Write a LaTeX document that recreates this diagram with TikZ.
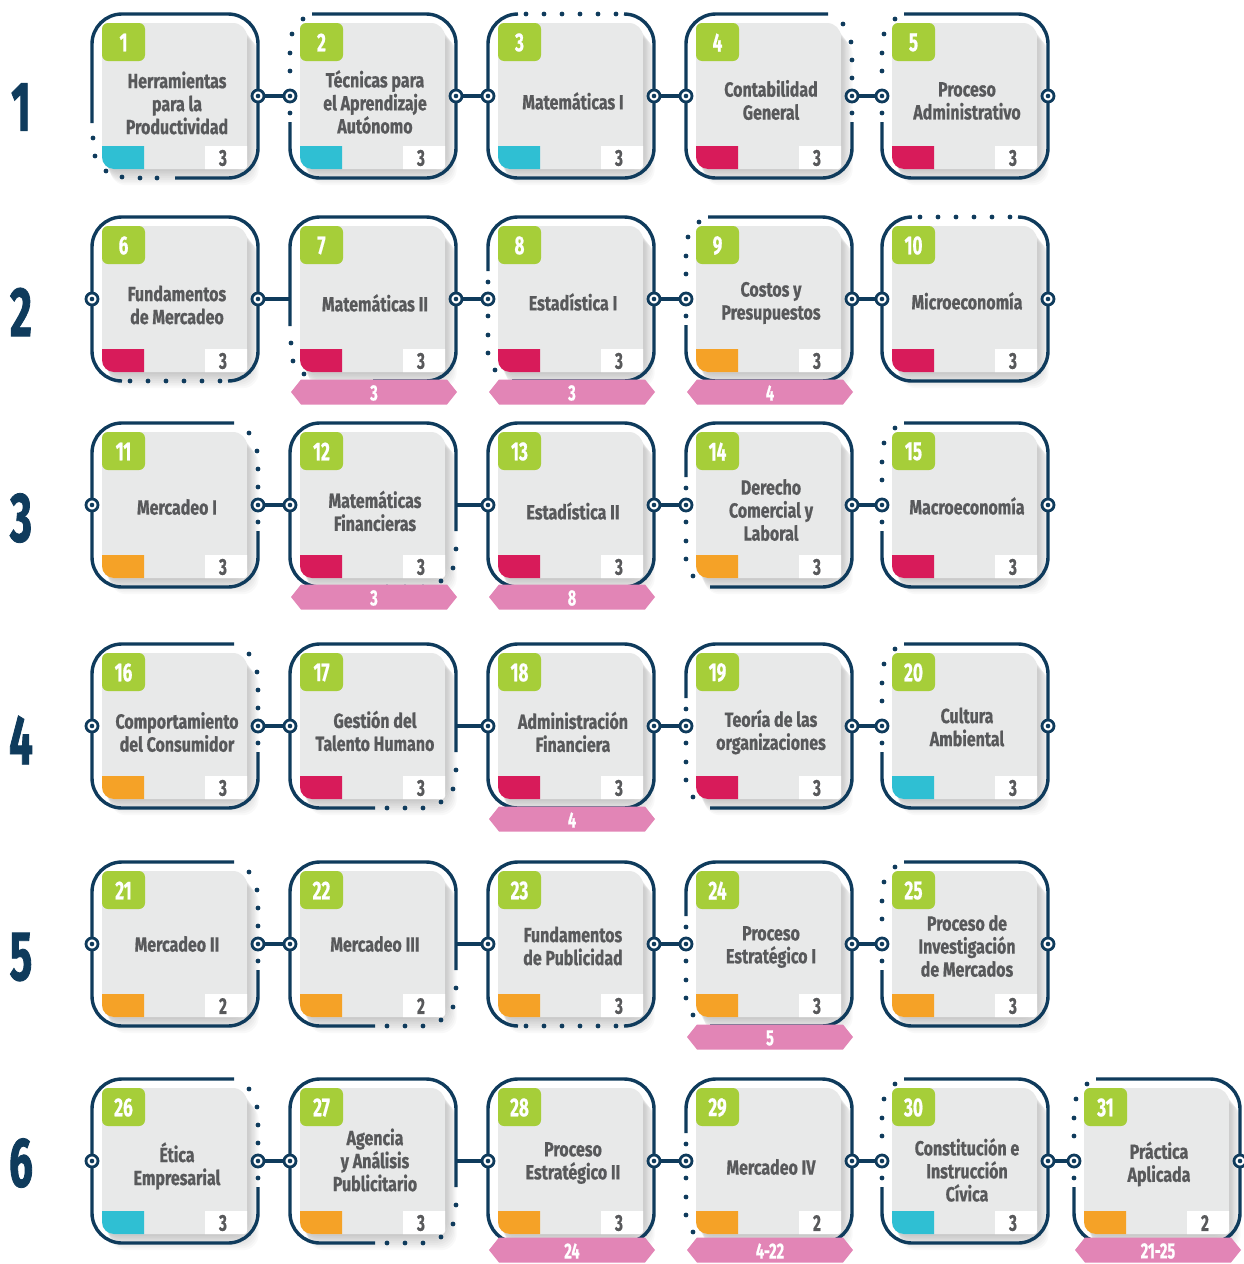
\documentclass[tikz,border=0pt]{standalone}
\usepackage{fontspec}
\newfontfamily\cf[FakeStretch=0.78, BoldFeatures={FakeBold=0.7}]{Fira Sans}
\newfontfamily\nf[FakeStretch=0.66, BoldFeatures={FakeBold=0.6}]{Fira Sans}
\newfontfamily\rf[FakeStretch=0.6, BoldFeatures={FakeBold=1.2}]{Fira Sans}
\definecolor{navy}{HTML}{0F3B5C}
\definecolor{txtgray}{HTML}{58595B}
\definecolor{cardgray}{HTML}{E8E9E9}
\definecolor{greenc}{HTML}{A6CE39}
\definecolor{cyanc}{HTML}{2FBFD3}
\definecolor{magc}{HTML}{D81B5A}
\definecolor{orangec}{HTML}{F5A227}
\definecolor{pinkc}{HTML}{E285B6}
\tikzset{
  fr/.style={draw=navy, line width=3.4pt},
  conn/.style={draw=navy, line width=3.2pt},
  ringnode/.style={circle, draw=navy, line width=2.8pt, fill=white, minimum size=12pt, inner sep=0pt,
     path picture={\fill[navy] (path picture bounding box.center) circle (2.3pt);}},
  ttl/.style={align=center, text=txtgray, inner sep=0pt, font=\cf\bfseries\fontsize{20.5}{23}\selectfont},
  badgenum/.style={text=white, inner sep=0pt, font=\nf\bfseries\fontsize{26}{26}\selectfont},
  crednum/.style={text=txtgray, inner sep=0pt, font=\nf\bfseries\fontsize{23}{23}\selectfont},
  rowlbl/.style={text=navy, inner sep=0pt, font=\rf\bfseries\fontsize{70}{70}\selectfont},
  bantext/.style={text=white, inner sep=0pt, font=\nf\bfseries\fontsize{22}{22}\selectfont},
  cardbox/.style={minimum width=166pt, minimum height=164pt, inner sep=0pt, outer sep=0pt, draw=none},
}
% dots along a frame
\newcommand\dts[1]{\foreach \p in {#1}{\fill[navy] \p circle (2.4);}}
% frame variants (local coordinates, 166 x 164, y downward)
\newcommand\frFull{\draw[fr, rounded corners=30pt] (0,0) rectangle (166,164);}
\newcommand\frTL{\draw[fr, rounded corners=30pt] (22,0) -- (166,0) -- (166,164) -- (0,164) -- (0,108);
  \dts{(13,5),(2,20),(0,39),(0,57),(0,99)}}
\newcommand\frTR{\draw[fr, rounded corners=30pt] (166,108) -- (166,164) -- (0,164) -- (0,0) -- (142,0);
  \dts{(157,10),(165,28),(166,46),(166,64),(166,99)}}
\newcommand\frBL{\draw[fr, rounded corners=30pt] (83,164) -- (166,164) -- (166,0) -- (0,0) -- (0,109);
  \dts{(1,124),(3,142),(14,157),(30,163),(48,164),(65,164)}}
\newcommand\frBLb{\draw[fr, rounded corners=30pt] (83,164) -- (166,164) -- (166,0) -- (0,0) -- (0,109);
  \dts{(1,126),(3,144),(14,157)}}
\newcommand\frBR{\draw[fr, rounded corners=30pt] (166,108) -- (166,0) -- (0,0) -- (0,164) -- (85,164);
  \dts{(166,126),(163,145),(151,158),(133,164),(115,164),(97,164)}}
\newcommand\frT{\draw[fr, rounded corners=30pt] (30,0) -- (0,0) -- (0,164) -- (166,164) -- (166,0) -- (136,0);
  \dts{(38,0),(56,0),(74,0),(92,0),(110,0),(128,0)}}
\newcommand\frB{\draw[fr, rounded corners=30pt] (30,164) -- (0,164) -- (0,0) -- (166,0) -- (166,164) -- (136,164);
  \dts{(38,164),(56,164),(74,164),(92,164),(110,164),(128,164)}}
\newcommand\frL{\draw[fr, rounded corners=30pt] (0,54) -- (0,0) -- (166,0) -- (166,164) -- (24,164);
  \dts{(0,65),(0,99),(0,118),(0,136),(7,153)}}
% card: name, L, T, badge, title, block colour, credits, frame, title y
\newcommand\card[9]{%
  \begin{scope}[shift={(#2,#3)}]
    \foreach \i in {1,...,9}{\fill[black,opacity=0.022,rounded corners=16pt] (10+0.9*\i,9+1.7*\i) rectangle (155+1.3*\i,155+1.8*\i);}
    \fill[cardgray] (10,15) arc[start angle=180,end angle=270,radius=6] -- (141,9)
       arc[start angle=270,end angle=360,radius=14] -- (155,152)
       arc[start angle=0,end angle=90,radius=3] -- (22,155)
       arc[start angle=90,end angle=180,radius=12] -- cycle;
    \fill[greenc, rounded corners=6pt] (10,9) rectangle (53,47);
    \fill[#6] (10,132) -- (52,132) -- (52,155) -- (22,155) arc[start angle=90,end angle=180,radius=12] -- cycle;
    \fill[white] (113,132) -- (155,132) -- (155,152) arc[start angle=0,end angle=90,radius=3] -- (113,155) -- cycle;
    #8
    \node[badgenum] (#1n) at (31.5,28.5) {#4};
    \node[crednum] (#1k) at (131,144) {#7};
    \node[ttl] (#1t) at (85,#9) {#5};
  \end{scope}
  \node[cardbox] (#1) at (#2+83,#3+82) {};
}
\newcommand\banner[4]{%
  \fill[pinkc] (#2-83,#3) -- (#2-73,#3-12.5) -- (#2+73,#3-12.5) -- (#2+83,#3) -- (#2+73,#3+12.5) -- (#2-73,#3+12.5) -- cycle;
  \node[bantext] (#1) at (#2,#3+1) {#4};
}
\begin{document}
\begin{tikzpicture}[x=1pt,y=-1pt]
\useasboundingbox (0,0) rectangle (1244,1264);
\fill[white] (0,0) rectangle (1244,1264);
% row labels
\node[rowlbl] (row1) at (21,107) {1};
\node[rowlbl] (row2) at (21,312) {2};
\node[rowlbl] (row3) at (21,518) {3};
\node[rowlbl] (row4) at (21,740) {4};
\node[rowlbl] (row5) at (21,957) {5};
\node[rowlbl] (row6) at (21,1163) {6};
% row 1
\card{c1}{92}{14}{1}{Herramientas\\para la\\Productividad}{cyanc}{3}{\frBL}{89}
\card{c2}{290}{14}{2}{Técnicas para\\el Aprendizaje\\Autónomo}{cyanc}{3}{\frTL}{88}
\card{c3}{488}{14}{3}{Matemáticas I}{cyanc}{3}{\frT}{87}
\card{c4}{686}{14}{4}{Contabilidad\\General}{magc}{3}{\frTR}{86}
\card{c5}{882}{14}{5}{Proceso\\Administrativo}{magc}{3}{\frTL}{87}
% row 2
\card{c6}{92}{217}{6}{Fundamentos\\de Mercadeo}{magc}{3}{\frB}{88}
\card{c7}{290}{217}{7}{Matemáticas II}{magc}{3}{\frBLb}{86}
\card{c8}{488}{217}{8}{Estadística I}{magc}{3}{\frL}{85}
\card{c9}{686}{217}{9}{Costos y\\Presupuestos}{orangec}{3}{\frTL}{86}
\card{c10}{882}{217}{10}{Microeconomía}{magc}{3}{\frT}{84}
% row 3
\card{c11}{92}{423}{11}{Mercadeo I}{orangec}{3}{\frTR}{84}
\card{c12}{290}{423}{12}{Matemáticas\\Financieras}{magc}{3}{\frBR}{88}
\card{c13}{488}{423}{13}{Estadística II}{magc}{3}{\frFull}{88}
\card{c14}{686}{423}{14}{Derecho\\Comercial y\\Laboral}{orangec}{3}{\frL}{87}
\card{c15}{882}{423}{15}{Macroeconomía}{magc}{3}{\frTL}{83}
% row 4
\card{c16}{92}{644}{16}{Comportamiento\\del Consumidor}{orangec}{3}{\frTR}{88}
\card{c17}{290}{644}{17}{Gestión del\\Talento Humano}{magc}{3}{\frBR}{87}
\card{c18}{488}{644}{18}{Administración\\Financiera}{magc}{3}{\frFull}{88}
\card{c19}{686}{644}{19}{Teoría de las\\organizaciones}{magc}{3}{\frL}{88}
\card{c20}{882}{644}{20}{Cultura\\Ambiental}{cyanc}{3}{\frTL}{83}
% row 5
\card{c21}{92}{862}{21}{Mercadeo II}{orangec}{2}{\frTR}{82}
\card{c22}{290}{862}{22}{Mercadeo III}{orangec}{2}{\frBR}{82}
\card{c23}{488}{862}{23}{Fundamentos\\de Publicidad}{orangec}{3}{\frB}{84}
\card{c24}{686}{862}{24}{Proceso\\Estratégico I}{orangec}{3}{\frL}{85}
\card{c25}{882}{862}{25}{Proceso de\\Investigación\\de Mercados}{orangec}{3}{\frTL}{84}
% row 6
\card{c26}{92}{1079}{26}{Ética\\Empresarial}{cyanc}{3}{\frTR}{87}
\card{c27}{290}{1079}{27}{Agencia\\y Análisis\\Publicitario}{orangec}{3}{\frBR}{81}
\card{c28}{488}{1079}{28}{Proceso\\Estratégico II}{orangec}{3}{\frFull}{84}
\card{c29}{686}{1079}{29}{Mercadeo IV}{orangec}{2}{\frL}{88}
\card{c30}{882}{1079}{30}{Constitución e\\Instrucción\\Cívica}{cyanc}{3}{\frTL}{91}
\card{c31}{1074}{1079}{31}{Práctica\\Aplicada}{orangec}{2}{\frTL}{85}
% banners
\banner{b7}{374}{392}{3}
\banner{b8}{572}{392}{3}
\banner{b9}{770}{392}{4}
\banner{b12}{374}{597}{3}
\banner{b13}{572}{597}{8}
\banner{b18}{572}{819}{4}
\banner{b24}{770}{1037}{5}
\banner{b28}{572}{1250}{24}
\banner{b29}{770}{1250}{4-22}
\banner{b31}{1158}{1250}{21-25}
% connectors
\foreach \a/\b in {c1/c2,c2/c3,c3/c4,c4/c5,
                   c6/c7,c7/c8,c8/c9,c9/c10,
                   c11/c12,c12/c13,c13/c14,c14/c15,
                   c16/c17,c17/c18,c18/c19,c19/c20,
                   c21/c22,c22/c23,c23/c24,c24/c25,
                   c26/c27,c27/c28,c28/c29,c29/c30,c30/c31}
  {\draw[conn] (\a.east) -- (\b.west);}
% rings
\foreach \c in {c1.east,c2.west,c2.east,c3.west,c3.east,c4.west,c4.east,c5.west,c5.east,
                c6.west,c6.east,c7.east,c8.west,c8.east,c9.west,c9.east,c10.west,c10.east,
                c11.west,c11.east,c12.west,c13.west,c13.east,c14.west,c14.east,c15.west,c15.east,
                c16.west,c16.east,c17.west,c18.west,c18.east,c19.west,c19.east,c20.west,c20.east,
                c21.west,c21.east,c22.west,c23.west,c23.east,c24.west,c24.east,c25.west,c25.east,
                c26.west,c26.east,c27.west,c28.west,c28.east,c29.west,c29.east,c30.west,c30.east,c31.west,c31.east}
  {\node[ringnode] at (\c) {};}
\end{tikzpicture}
\end{document}
